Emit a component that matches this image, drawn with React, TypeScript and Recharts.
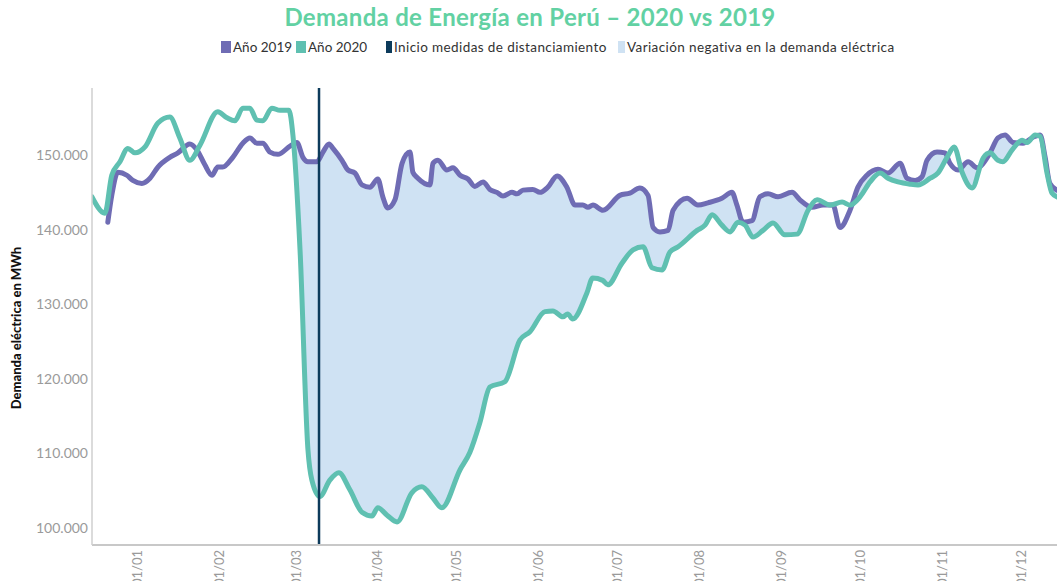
import React from 'react';
import { ComposedChart, Line, Area, XAxis, YAxis, ReferenceLine } from 'recharts';

// días desde el 01/01 (negativos = diciembre anterior) y demanda diaria en MWh
const dias2020 = [
  -17.4, -12.5, -9.9, -6.8, -3.8, -1.1, 2.7, 7.6, 12.1, 15.9, 19.7, 23.5, 30.3, 33.8, 36.8, 39.8, 42.5, 45.1,
  47.4, 50.8, 53.9, 57.3, 58.8, 61.5, 64.5, 66.0, 69.0, 72.8, 76.2, 80.4, 85.0, 88.8, 91.0, 94.5, 98.3, 103.9,
  107.7, 111.9, 115.3, 122.2, 125.9, 129.7, 133.5, 139.2, 144.9, 148.7, 154.4, 157.4, 161.2, 163.0, 164.9,
  170.3, 172.5, 176.3, 178.2, 183.6, 187.8, 191.6, 195.0, 198.8, 201.8, 204.9, 212.1, 215.1, 217.8, 221.5,
  224.6, 227.6, 230.3, 233.3, 237.1, 240.9, 245.4, 250.0, 254.2, 257.6, 262.5, 267.1, 270.1, 273.9, 277.7,
  281.5, 284.5, 288.3, 292.9, 295.9, 300.5, 303.5, 306.9, 309.6, 312.6, 316.4, 320.6, 323.2, 326.2, 328.1,
  331.6, 335.4, 337.3, 340.3, 342.2, 344.8, 346.7, 348.6,
];
const demanda2020 = [
  144400, 142200, 147300, 149100, 150900, 150300, 151100, 154300, 155100, 152300, 149300, 151300, 155800,
  155000, 154600, 156300, 156300, 154700, 154600, 156300, 156000, 156000, 152700, 137300, 110500, 106400,
  104200, 106400, 107400, 105100, 102100, 101600, 102700, 101700, 100800, 104700, 105500, 104000, 102700,
  107800, 110100, 114100, 118900, 119600, 125200, 126300, 129000, 129100, 128300, 128700, 128000, 131500,
  133500, 133200, 132600, 135500, 137300, 137700, 134900, 134600, 137000, 137700, 139900, 140600, 142000,
  140600, 139700, 141000, 140600, 139000, 139900, 140900, 139300, 139400, 142600, 144000, 143300, 143700,
  143300, 144400, 146400, 147600, 146900, 146400, 146100, 146000, 146900, 147600, 149700, 151100, 147700,
  145600, 149600, 150300, 149300, 149100, 150700, 152000, 151700, 152700, 152500, 147600, 144900, 144400,
];

const dias2019 = [
  -11.4, -9.9, -7.6, -4.2, -1.9, 1.5, 4.6, 7.6, 12.1, 15.2, 19.7, 22.4, 25.4, 28.1, 30.3, 32.2, 36.0, 39.8,
  42.5, 45.1, 47.4, 50.1, 53.1, 57.7, 60.3, 62.6, 64.5, 67.9, 70.2, 72.5, 74.0, 77.4, 79.7, 82.3, 85.0, 88.0,
  91.0, 92.9, 94.8, 97.5, 100.2, 103.2, 104.3, 106.2, 110.8, 111.9, 113.8, 117.2, 119.5, 122.2, 125.2, 127.8,
  130.9, 133.5, 136.2, 138.5, 141.9, 143.8, 146.1, 149.8, 152.5, 155.5, 159.0, 162.7, 165.8, 168.8, 170.7,
  172.6, 176.4, 182.8, 186.6, 190.4, 193.5, 195.4, 198.0, 201.1, 203.0, 208.3, 212.4, 216.2, 221.5, 225.3,
  227.2, 229.5, 232.9, 235.9, 239.0, 242.8, 248.1, 251.1, 255.7, 259.9, 263.6, 266.3, 270.1, 273.1, 276.5,
  280.7, 284.5, 289.1, 291.7, 294.8, 297.4, 299.3, 303.1, 306.1, 308.0, 311.1, 314.9, 318.3, 323.2, 326.2,
  328.9, 331.9, 335.7, 339.5, 342.2, 344.1, 345.9, 348.6,
];
const demanda2019 = [
  141000, 144600, 147700, 147300, 146600, 146200, 146900, 148400, 149700, 150300, 151500, 150700, 148700,
  147300, 148400, 148400, 149700, 151600, 152300, 151600, 151600, 150400, 150100, 151200, 151700, 149700,
  149100, 149100, 150400, 151500, 150900, 149300, 148000, 147600, 146000, 145700, 146800, 144400, 142900,
  144000, 148900, 150400, 147700, 146900, 146000, 148900, 149300, 148000, 148300, 147300, 146800, 145800,
  146400, 145400, 145000, 144500, 145000, 144800, 145300, 145400, 145000, 145700, 147200, 145700, 143300,
  143300, 143000, 143300, 142600, 144600, 144900, 145600, 144600, 140300, 139700, 139900, 142600, 144200,
  143300, 143600, 144200, 145000, 143300, 141000, 141200, 144400, 144800, 144400, 145000, 144000, 143000,
  143300, 143300, 140300, 142600, 145700, 147300, 148100, 147600, 148900, 146900, 146600, 147100, 149300,
  150400, 150300, 148900, 148000, 149100, 148300, 150300, 152300, 152700, 151700, 151600, 152400, 152700,
  149700, 146200, 145300,
];

const diaDistanciamiento = 68.7;
const inicioSombra = 57;
const inicioMascara = 50;

const mesesDias = [0, 31, 60, 91, 121, 152, 182, 213, 244, 274, 305, 335];
const mesesLabels = ['01/01', '01/02', '01/03', '01/04', '01/05', '01/06', '01/07', '01/08', '01/09', '01/10', '01/11', '01/12'];
const yTicks = [100000, 110000, 120000, 130000, 140000, 150000];

const leyenda = [
  { label: 'Año 2019', color: '#6f6cb4', w: 10, left: 221 },
  { label: 'Año 2020', color: '#5fc0b1', w: 10, left: 296 },
  { label: 'Inicio medidas de distanciamiento', color: '#0d3b5b', w: 6, left: 386 },
  { label: 'Variación negativa en la demanda eléctrica', color: '#cfe2f3', w: 7, left: 618 },
];

const serie2020 = dias2020.map((d, i) => ({ dia: d, v2020: demanda2020[i] }));
const serie2019 = dias2019.map((d, i) => ({ dia: d, v2019: demanda2019[i] }));
const sombra = serie2019.filter((p) => p.dia >= inicioSombra);
const mascara = serie2020.filter((p) => p.dia >= inicioMascara);

const fmtMiles = (v: number) => String(v).replace(/\B(?=(\d{3})+(?!\d))/g, '.');

const font = 'Lato, "Open Sans", sans-serif';

const MesTick = (props: any) => {
  const { x, y, payload } = props;
  const idx = mesesDias.indexOf(payload.value);
  return (
    <text
      x={x}
      y={y}
      transform={`rotate(-90, ${x}, ${y})`}
      textAnchor="end"
      dy="0.35em"
      fill="#9a9a9a"
      fontSize={13}
      fontFamily={font}
    >
      {mesesLabels[idx] ?? ''}
    </text>
  );
};

export default function App() {
  return (
    <div
      style={{
        position: 'absolute',
        left: 0,
        top: 0,
        width: 1057,
        height: 581,
        overflow: 'hidden',
        background: '#fff',
        fontFamily: font,
      }}
    >
      <div
        style={{
          position: 'absolute',
          left: 0,
          top: 3,
          width: 1060,
          textAlign: 'center',
          fontSize: 24,
          letterSpacing: 0.3,
          lineHeight: '28px',
          fontWeight: 700,
          color: '#62d1a3',
        }}
      >
        Demanda de Energía en Perú – 2020 vs 2019
      </div>
      {leyenda.map((item) => (
        <div
          key={item.label}
          style={{
            position: 'absolute',
            left: item.left,
            top: 38,
            display: 'flex',
            alignItems: 'center',
            fontSize: 13.5,
            letterSpacing: item.label.length > 10 ? 0.4 : 0,
            lineHeight: '18px',
            color: '#333',
            whiteSpace: 'nowrap',
          }}
        >
          <span style={{ display: 'inline-block', width: item.w, height: 12, background: item.color, marginRight: 2 }} />
          <span>{item.label}</span>
        </div>
      ))}
      <div
        style={{
          position: 'absolute',
          left: 16,
          top: 328,
          transform: 'translate(-50%, -50%) rotate(-90deg)',
          fontSize: 13,
          fontWeight: 900,
          color: '#111',
          whiteSpace: 'nowrap',
        }}
      >
        Demanda eléctrica en MWh
      </div>
      <div style={{ position: 'absolute', left: 0, top: 0 }}>
        <ComposedChart width={1057} height={581} margin={{ top: 88, right: 0, bottom: 0, left: 0 }}>
          <XAxis
            dataKey="dia"
            type="number"
            domain={[-17.4, 348.6]}
            allowDataOverflow
            ticks={mesesDias}
            interval={0}
            tick={<MesTick />}
            tickLine={false}
            tickSize={0}
            tickMargin={5}
            height={36}
            axisLine={{ stroke: '#c8c8c8', strokeWidth: 2 }}
          />
          <YAxis
            type="number"
            domain={[97700, 159000]}
            allowDataOverflow
            ticks={yTicks}
            tickFormatter={fmtMiles}
            width={92}
            tickLine={false}
            tickSize={0}
            tickMargin={4}
            tick={{ fill: '#9a9a9a', fontSize: 14, fontFamily: font }}
            axisLine={{ stroke: '#cfcfcf', strokeWidth: 1.5 }}
          />
          <Area
            data={sombra}
            dataKey="v2019"
            type="monotone"
            stroke="none"
            fill="#cfe2f3"
            fillOpacity={1}
            dot={false}
            activeDot={false}
            isAnimationActive={false}
          />
          <Area
            data={mascara}
            dataKey="v2020"
            type="monotone"
            stroke="none"
            fill="#ffffff"
            fillOpacity={1}
            dot={false}
            activeDot={false}
            isAnimationActive={false}
          />
          <Line
            data={serie2019}
            dataKey="v2019"
            type="monotone"
            stroke="#6f6cb4"
            strokeWidth={5}
            strokeLinejoin="round"
            strokeLinecap="round"
            dot={false}
            activeDot={false}
            isAnimationActive={false}
          />
          <Line
            data={serie2020}
            dataKey="v2020"
            type="monotone"
            stroke="#5fc0b1"
            strokeWidth={5}
            strokeLinejoin="round"
            strokeLinecap="round"
            dot={false}
            activeDot={false}
            isAnimationActive={false}
          />
          <ReferenceLine x={diaDistanciamiento} stroke="#0d3b5b" strokeWidth={2.5} />
        </ComposedChart>
      </div>
    </div>
  );
}
